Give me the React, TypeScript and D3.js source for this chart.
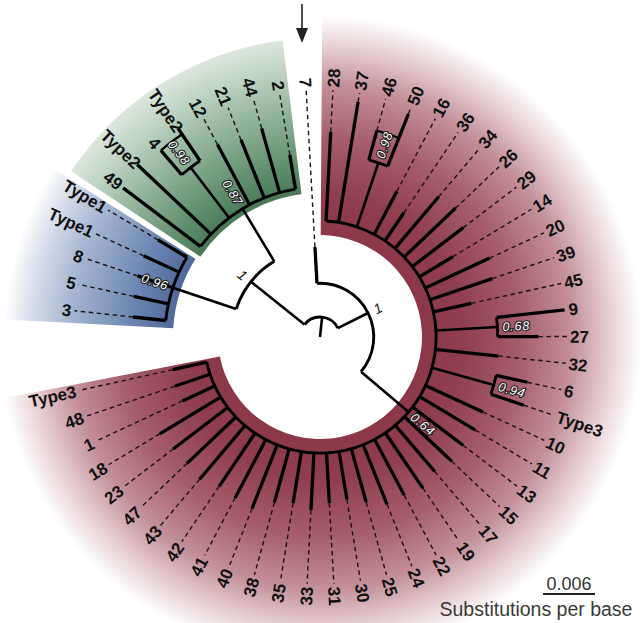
import React from 'react';
import * as d3 from 'd3';

// tips in clockwise order, starting at the bottom of the blue clade
const tipIds = [
  '3', '5', '8', 'T1a', 'T1b',
  '49', 'T2a', '4', 'T2b', '12', '21', '44', '2',
  '7',
  '28', '37', '46', '50', '16', '36', '34', '26', '29', '14', '20', '39', '45', '9', '27', '32', '6', 'T3a',
  '10', '11', '13', '15', '17', '19', '22', '24', '25', '30', '31', '33', '35', '38', '40', '41', '42', '43',
  '47', '23', '18', '1', '48', 'T3b',
];
const tipParents = [
  'blue', 'blue', 'blue', 'blue', 'blue',
  'green', 'green', 'g098', 'g098', 'green', 'green', 'green', 'green',
  'B',
  'red', 'red', 'r098', 'r098', 'red', 'red', 'red', 'red', 'red', 'red', 'red', 'red', 'red', 'r068', 'r068', 'red', 'r094', 'r094',
  'red', 'red', 'red', 'red', 'red', 'red', 'red', 'red', 'red', 'red', 'red', 'red', 'red', 'red', 'red', 'red', 'red', 'red',
  'red', 'red', 'red', 'red', 'red', 'red',
];
// root-to-tip distance, substitutions per base
const tipDepths = [
  0.0217, 0.0220, 0.0222, 0.0224, 0.0218,
  0.0285, 0.0290, 0.0283, 0.0291, 0.0252, 0.0245, 0.0250, 0.0213,
  0.0104,
  0.0237, 0.0275, 0.0247, 0.0277, 0.0190, 0.0173, 0.0212, 0.0216, 0.0208, 0.0179, 0.0216, 0.0210, 0.0179, 0.0284, 0.0252, 0.0207, 0.0245, 0.0248,
  0.0207, 0.0209, 0.0207, 0.0209, 0.0204, 0.0211, 0.0207, 0.0208, 0.0198, 0.0190, 0.0192, 0.0200, 0.0194, 0.0198, 0.0213, 0.0210, 0.0208, 0.0215,
  0.0212, 0.0213, 0.0216, 0.0175, 0.0177, 0.0174,
];

const nodeIds = ['root', 'A', 'B', 'blue', 'green', 'red', 'r098', 'r068', 'r094', 'g098'];
const nodeParents = [null, 'root', 'root', 'A', 'A', 'B', 'red', 'red', 'red', 'green'];
const nodeDepths = [0.0023, 0.0102, 0.0062, 0.0179, 0.0173, 0.0134, 0.0212, 0.0205, 0.0208, 0.0246];
const nodeSupport = ['', '1', '1', '0.96', '0.87', '0.64', '0.98', '0.68', '0.94', '0.98'];
const boxedNodes = ['r098', 'g098'];

const scaleBarValue = 0.006;

const W = 642;
const H = 623;
const CX = 320;
const CY = 337;
const R_LABEL = 250;
const FONT = "'Liberation Sans', Arial, Helvetica, sans-serif";

const toRad = (deg: number) => (deg * Math.PI) / 180;
const polar = (r: number, deg: number): [number, number] => [
  CX + r * Math.sin(toRad(deg)),
  CY - r * Math.cos(toRad(deg)),
];
const labelText = (id: string) => (id[0] === 'T' ? 'Type' + id[1] : id);

const App: React.FC = () => {
  // 58 slots round the circle; the last two stay empty
  const angle = d3.scaleLinear().domain([0, 58]).range([-83.9, 276.1]);
  const r = d3.scaleLinear().domain([0, scaleBarValue]).range([0, 52]);

  const rows = [
    ...nodeIds.map((id, i) => ({ id, parent: nodeParents[i], depth: nodeDepths[i], support: nodeSupport[i] })),
    ...tipIds.map((id, i) => ({ id, parent: tipParents[i], depth: tipDepths[i], support: '' })),
  ];
  const root = d3.stratify<any>().id((d: any) => d.id).parentId((d: any) => d.parent)(rows);

  const ang = new Map<string, number>();
  root.eachAfter((n: any) => {
    if (!n.children) ang.set(n.id, angle(tipIds.indexOf(n.id)));
    else {
      const as = n.children.map((c: any) => ang.get(c.id) as number);
      ang.set(n.id, (d3.min(as)! + d3.max(as)!) / 2);
    }
  });
  const rad = (n: any) => r(n.data.depth);

  const arcPath = (radius: number, a0: number, a1: number) => {
    const p = d3.path();
    const [x0, y0] = polar(radius, a0);
    p.moveTo(x0, y0);
    p.arc(CX, CY, radius, toRad(a0 - 90), toRad(a1 - 90));
    return p.toString();
  };

  const sector = d3.arc<any>();
  const sectorPath = (r0: number, r1: number, s0: number, s1: number) =>
    sector({ innerRadius: r0, outerRadius: r1, startAngle: toRad(angle(s0)), endAngle: toRad(angle(s1)) }) as string;

  const nodes = root.descendants();
  const internal = nodes.filter((n: any) => n.children);
  const tips = nodes.filter((n: any) => !n.children);

  const radialText = (
    key: string, text: string, radius: number, a: number,
    props: React.SVGProps<SVGTextElement>,
  ) => {
    const norm = ((a % 360) + 360) % 360;
    const flip = norm > 180;
    return (
      <text
        key={key}
        transform={`translate(${CX},${CY}) rotate(${a - 90}) translate(${radius},0)${flip ? ' rotate(180)' : ''}`}
        textAnchor={flip ? 'end' : 'start'}
        dy="0.36em"
        {...props}
      >
        {text}
      </text>
    );
  };

  return (
    <svg width={W} height={H} style={{ position: 'absolute', left: 0, top: 0, background: '#fff' }} fontFamily={FONT}>
      <defs>
        <radialGradient id="gRed" gradientUnits="userSpaceOnUse" cx={0} cy={0} r={322}>
          <stop offset="0.31" stopColor="#8b3748" />
          <stop offset="0.45" stopColor="#903f50" />
          <stop offset="0.62" stopColor="#a55d6c" />
          <stop offset="0.78" stopColor="#c38f99" />
          <stop offset="0.9" stopColor="#e6cfd3" />
          <stop offset="1" stopColor="#ffffff" />
        </radialGradient>
        <radialGradient id="gGreen" gradientUnits="userSpaceOnUse" cx={0} cy={0} r={300}>
          <stop offset="0.47" stopColor="#467654" />
          <stop offset="0.56" stopColor="#5a8a68" />
          <stop offset="0.76" stopColor="#93b59c" />
          <stop offset="0.9" stopColor="#c0d4c4" />
          <stop offset="1" stopColor="#dde8df" />
        </radialGradient>
        <radialGradient id="gBlue" gradientUnits="userSpaceOnUse" cx={0} cy={0} r={316}>
          <stop offset="0.46" stopColor="#4f6799" />
          <stop offset="0.6" stopColor="#6c86b2" />
          <stop offset="0.8" stopColor="#a8b7d2" />
          <stop offset="0.93" stopColor="#dde2ed" />
          <stop offset="1" stopColor="#ffffff" />
        </radialGradient>
      </defs>

      <g transform={`translate(${CX},${CY})`}>
        <path d={sectorPath(102, 322, 13.58, 55.25)} fill="url(#gRed)" />
        <path d={sectorPath(146, 316, -0.5, 4.25)} fill="url(#gBlue)" stroke="#fff" strokeWidth={2} />
        <path d={sectorPath(143, 300, 4.41, 12.39)} fill="url(#gGreen)" stroke="#fff" strokeWidth={2} />
      </g>

      {/* dashed leader lines from tips to labels */}
      {tips.map((n: any) => {
        const a = ang.get(n.id)!;
        const r0 = rad(n);
        if (r0 > R_LABEL - 8) return null;
        const [x0, y0] = polar(r0, a);
        const [x1, y1] = polar(R_LABEL - 3, a);
        return (
          <line key={'d' + n.id} x1={x0} y1={y0} x2={x1} y2={y1} stroke="#1d1114" strokeWidth={1.4} strokeDasharray="4.5 3.5" />
        );
      })}

      {/* root stem */}
      {(() => {
        const [x1, y1] = polar(rad(root), ang.get('root')!);
        return <line x1={CX} y1={CY} x2={x1} y2={y1} stroke="#000" strokeWidth={2.6} />;
      })()}

      {/* radial branches */}
      {nodes.filter((n: any) => n.parent).map((n: any) => {
        const a = ang.get(n.id)!;
        const [x0, y0] = polar(rad(n.parent), a);
        const [x1, y1] = polar(rad(n), a);
        return (
          <line key={'b' + n.id} x1={x0} y1={y0} x2={x1} y2={y1} stroke="#000"
            strokeWidth={n.children ? 2.6 : 3.3} />
        );
      })}

      {/* node arcs */}
      {internal.map((n: any) => {
        const as = n.children.map((c: any) => ang.get(c.id) as number);
        return (
          <path key={'a' + n.id} d={arcPath(rad(n), d3.min(as)!, d3.max(as)!)} fill="none" stroke="#000" strokeWidth={2.9} />
        );
      })}

      {/* boxes round some support values */}
      {internal.filter((n: any) => boxedNodes.includes(n.id)).map((n: any) => {
        const as = n.children.map((c: any) => ang.get(c.id) as number);
        return (
          <path key={'x' + n.id} d={arcPath(rad(n.children[0]), d3.min(as)!, d3.max(as)!)} fill="none" stroke="#000" strokeWidth={2.2} />
        );
      })}

      {/* support values */}
      {internal.filter((n: any) => n.data.support).map((n: any) => {
        const a = ang.get(n.id)!;
        const s = n.data.support;
        if (s === '1') {
          return radialText('s' + n.id, s, rad(n) + 7, a, {
            fontSize: 14, fontStyle: 'italic', fill: '#111',
          });
        }
        return radialText('s' + n.id, s, rad(n) + 5, a, {
          fontSize: 12.5, fontStyle: 'italic', fill: '#fff', stroke: '#1a1a1a', strokeWidth: 2.2,
          paintOrder: 'stroke', letterSpacing: 0.8,
        } as any);
      })}

      {/* tip labels */}
      {tips.map((n: any) =>
        radialText('l' + n.id, labelText(n.id), R_LABEL, ang.get(n.id)!, {
          fontSize: 17, fontWeight: 'bold', fill: '#111',
        }),
      )}

      {/* arrow marking sample 7 */}
      <line x1={302} y1={4} x2={302} y2={30} stroke="#222" strokeWidth={1.6} />
      <polygon points="296,28 308,28 302,43" fill="#222" />

      {/* scale bar */}
      <text x={543 + r(scaleBarValue) / 2} y={590} textAnchor="middle" fontSize={18} fill="#333">
        {scaleBarValue}
      </text>
      <line x1={543} y1={594} x2={543 + r(scaleBarValue)} y2={594} stroke="#222" strokeWidth={1.8} />
      <text x={536} y={616} textAnchor="middle" fontSize={19.5} fill="#3a3a3a">
        Substitutions per base
      </text>
    </svg>
  );
};

export default App;
